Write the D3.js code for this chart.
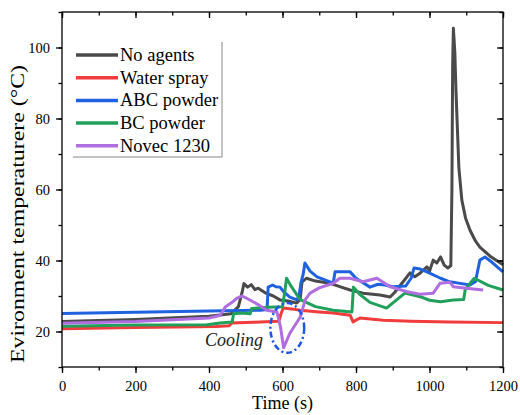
<!DOCTYPE html>
<html>
<head>
<meta charset="utf-8">
<script src="https://cdn.jsdelivr.net/npm/d3@7"></script>
<style>
  body { margin: 0; background: #fff; }
  svg text { font-family: "Liberation Serif", "Times New Roman", serif; }
</style>
</head>
<body>
<div id="chart"></div>
<script>
const seriesNames = ["No agents", "Water spray", "ABC powder", "BC powder", "Novec 1230"];
const colors = ["#4a4a4a", "#f03c3c", "#1f62e0", "#20a05a", "#b06ee0"];

// [time (s), temperature (°C)]
const noAgents = [[0,22.8],[200,23.4],[400,24.3],[460,25],[480,27],[490,31],[495,33.5],[505,32.5],[515,33.2],
  [525,31.8],[534,32.2],[555,30.8],[575,30],[593,28.9],[615,28.6],[639,28],[648,29],[653,33.9],[665,35],
  [690,34.2],[729,33.6],[760,32.5],[784,31.7],[819,30.8],[865,30.3],[893,29.7],[905,31],[925,33.6],
  [947,36.5],[960,35.4],[975,36.5],[993,38.2],[1000,37],[1010,40.1],[1020,39.3],[1030,41],[1040,38.7],
  [1050,37.9],[1058,38.5],[1061,60],[1063,95],[1065,105.4],[1067,102],[1069,98.5],[1072,88],[1075,79.6],
  [1080,66],[1088,57],[1098,52],[1110,48.6],[1125,45.5],[1137,43.8],[1165,41.2],[1200,38.8]];
const waterSpray = [[0,20.8],[200,21.1],[420,21.4],[455,21.6],[462,22.4],[520,22.6],[590,22.9],[596,25],
  [602,26.6],[630,26.3],[648,26],[700,25.5],[738,25.2],[784,24.6],[792,22.7],[800,23.2],[811,23.8],
  [874,23.2],[950,22.9],[1055,22.7],[1200,22.5]];
const abcPowder = [[0,25.1],[200,25.4],[400,25.8],[540,26],[558,26.2],[561,32.5],[573,33.1],[582,32.6],
  [593,32.5],[605,31],[620,29.7],[639,28.9],[645,30],[650,33.6],[656,36],[661,39.3],[675,37],[694,35.4],
  [738,33.6],[743,36.8],[784,36.8],[800,35],[838,32.5],[860,33.3],[879,33.1],[900,32.6],[935,32.8],
  [950,35],[958,37.9],[975,37.6],[993,36.8],[1030,35],[1055,34],[1075,33.7],[1110,33.1],[1125,34],
  [1137,40.1],[1151,41],[1170,39.5],[1200,36.8]];
const bcPowder = [[0,21.5],[200,21.8],[395,21.9],[430,22.4],[463,22.7],[467,25],[490,25.2],[512,25],
  [516,26.5],[560,26.8],[600,27],[606,31],[611,35],[622,33],[648,29],[690,27],[738,26],[789,25.5],
  [793,32.5],[810,30.5],[838,28.2],[883,26.6],[933,30.8],[975,29.8],[1000,28.8],[1030,28.4],
  [1065,28.9],[1093,29],[1097,31.7],[1110,33.5],[1122,35],[1160,33],[1200,31.7]];
const novec = [[0,22.3],[200,22.8],[400,23.8],[430,24.5],[445,27],[460,28],[475,29.3],[490,30],
  [500,29.5],[530,27.8],[557,26],[585,25.5],[595,21],[603,15.4],[620,19.5],[648,24],[662,29],
  [675,30.8],[700,32.3],[738,33.6],[756,35],[784,35],[819,34],[857,35],[893,32.6],[939,31.2],
  [974,30.5],[1010,30.8],[1029,33.6],[1055,33.9],[1065,32.6],[1100,32.2],[1146,31.7]];
const allSeries = [noAgents, waterSpray, abcPowder, bcPowder, novec];

const xTicks = [0, 200, 400, 600, 800, 1000, 1200];
const yTicks = [20, 40, 60, 80, 100];

const width = 520, height = 415;
const margin = { top: 12, right: 17, bottom: 48, left: 62 };
const w = width - margin.left - margin.right;
const h = height - margin.top - margin.bottom;

const svg = d3.select("#chart").append("svg")
    .attr("width", width)
    .attr("height", height);

const g = svg.append("g")
    .attr("transform", `translate(${margin.left},${margin.top})`);

const x = d3.scaleLinear().domain([0, 1200]).range([0, w]);
const y = d3.scaleLinear().domain([10, 110]).range([h, 0]);

const line = d3.line()
    .x(d => x(d[0]))
    .y(d => y(d[1]));

// curves
allSeries.forEach((s, i) => {
    g.append("path")
        .datum(s)
        .attr("fill", "none")
        .attr("stroke", colors[i])
        .attr("stroke-width", 3)
        .attr("stroke-linejoin", "round")
        .attr("d", line);
});

// frame
g.append("rect")
    .attr("width", w)
    .attr("height", h)
    .attr("fill", "none")
    .attr("stroke", "#000")
    .attr("stroke-width", 1.3);

// axes
const xMinor = d3.range(0, 1201, 100);
const yMinor = d3.range(10, 111, 10);
const fmt = d3.format("d");

const bottomMinor = g.append("g")
    .attr("transform", `translate(0,${h})`)
    .call(d3.axisBottom(x).tickValues(xMinor).tickSize(3.5).tickFormat(""));
const bottom = g.append("g")
    .attr("transform", `translate(0,${h})`)
    .call(d3.axisBottom(x).tickValues(xTicks).tickSize(6).tickPadding(8).tickSizeOuter(0).tickFormat(fmt));
const leftMinor = g.append("g")
    .call(d3.axisLeft(y).tickValues(yMinor).tickSize(3.5).tickFormat(""));
const left = g.append("g")
    .call(d3.axisLeft(y).tickValues(yTicks).tickSize(6).tickPadding(6).tickSizeOuter(0).tickFormat(fmt));
const topMinor = g.append("g")
    .call(d3.axisBottom(x).tickValues(xMinor).tickSize(3.5).tickFormat(""));
const topMajor = g.append("g")
    .call(d3.axisBottom(x).tickValues(xTicks).tickSize(6).tickFormat(""));
const rightMinor = g.append("g")
    .attr("transform", `translate(${w},0)`)
    .call(d3.axisLeft(y).tickValues(yMinor).tickSize(3.5).tickFormat(""));
const rightMajor = g.append("g")
    .attr("transform", `translate(${w},0)`)
    .call(d3.axisLeft(y).tickValues(yTicks).tickSize(6).tickFormat(""));

[bottomMinor, bottom, leftMinor, left, topMinor, topMajor, rightMinor, rightMajor].forEach(a => {
    a.select(".domain").remove();
    a.selectAll("line").attr("stroke", "#000").attr("stroke-width", 1.3);
    a.selectAll("text").attr("fill", "#000").attr("font-size", "14.5px");
});

// axis titles
svg.append("text")
    .attr("x", margin.left + w / 2)
    .attr("y", 409)
    .attr("text-anchor", "middle")
    .attr("font-size", "18px")
    .text("Time (s)");

svg.append("text")
    .attr("transform", "translate(24,214) rotate(-90)")
    .attr("text-anchor", "middle")
    .attr("font-size", "19px")
    .attr("textLength", 298)
    .attr("lengthAdjust", "spacingAndGlyphs")
    .text("Evironment temperaturere (°C)");

// legend
const legend = svg.append("g");
legend.append("path")
    .attr("d", "M222,42 V157 H73")
    .attr("fill", "none")
    .attr("stroke", "#888")
    .attr("stroke-width", 1);
seriesNames.forEach((name, i) => {
    const ly = 55 + i * 22.7;
    legend.append("line")
        .attr("x1", 76).attr("x2", 118)
        .attr("y1", ly).attr("y2", ly)
        .attr("stroke", colors[i])
        .attr("stroke-width", 3.5);
    legend.append("text")
        .attr("x", 120)
        .attr("y", ly + 6)
        .attr("font-size", "18.5px")
        .text(name);
});

// cooling annotation
g.append("ellipse")
    .attr("cx", x(613))
    .attr("cy", y(21))
    .attr("rx", x(46) - x(0))
    .attr("ry", y(10) - y(17))
    .attr("fill", "none")
    .attr("stroke", "#1f55e6")
    .attr("stroke-width", 2.5)
    .attr("stroke-dasharray", "6,3,2,3");

svg.append("text")
    .attr("x", 205)
    .attr("y", 346)
    .attr("font-size", "18px")
    .attr("font-style", "italic")
    .attr("fill", "#222")
    .text("Cooling");
</script>
</body>
</html>
